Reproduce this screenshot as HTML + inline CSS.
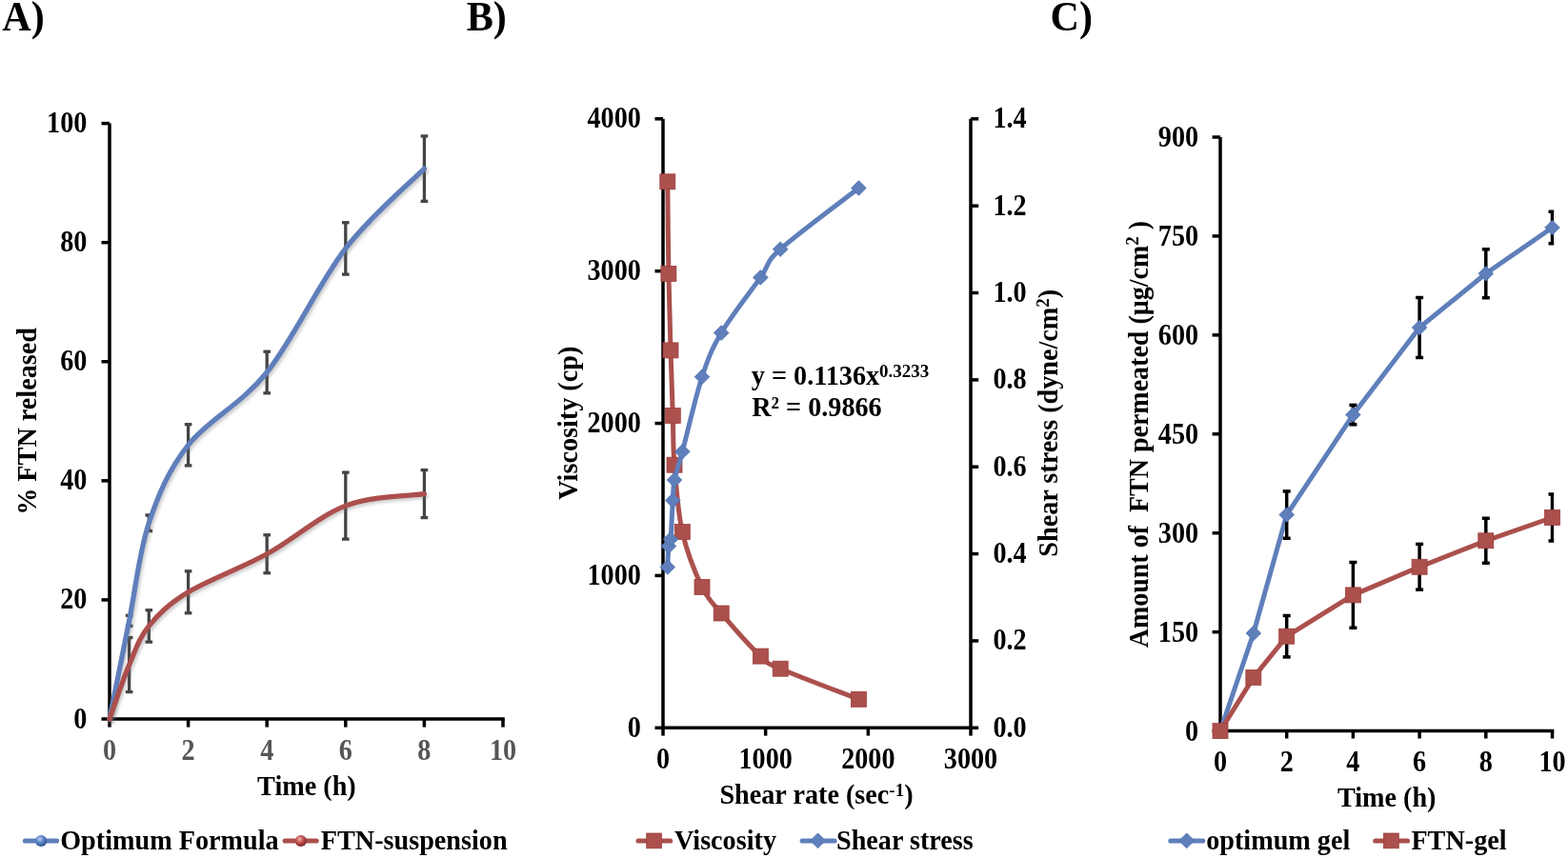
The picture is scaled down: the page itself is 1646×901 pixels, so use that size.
<!DOCTYPE html>
<html><head><meta charset="utf-8"><title>Figure</title>
<style>
html,body{margin:0;padding:0;background:#fff;}
svg{display:block;}
text{font-family:"Liberation Serif","Times New Roman",serif;font-weight:bold;}
</style></head>
<body>
<svg width="1646" height="901" viewBox="0 0 1646 901">
<defs>
<clipPath id="cclip"><rect x="1200" y="100" width="431.2" height="700"/></clipPath>
<filter id="sh" x="-10%" y="-10%" width="120%" height="120%">
<feDropShadow dx="2" dy="2.5" stdDeviation="1.6" flood-color="#6a6a6a" flood-opacity="0.32"/>
</filter>
<radialGradient id="gb" cx="0.4" cy="0.35" r="0.65"><stop offset="0" stop-color="#b9cdf0"/><stop offset="0.5" stop-color="#5d84c9"/><stop offset="1" stop-color="#2f4f8a"/></radialGradient>
<radialGradient id="gr" cx="0.4" cy="0.35" r="0.65"><stop offset="0" stop-color="#f0b0ae"/><stop offset="0.5" stop-color="#c0504d"/><stop offset="1" stop-color="#7a2624"/></radialGradient>
</defs>
<rect width="1646" height="901" fill="#fff"/>
<text transform="translate(2.30,31.90) scale(1,1.045)" font-size="42.2" text-anchor="start" fill="#000">A)</text>
<path d="M115.0,129.6 L115.0,755.0 L529.75,755.0" fill="none" stroke="#000" stroke-width="3.5"/>
<line x1="106.50" y1="755.00" x2="115.00" y2="755.00" stroke="#000" stroke-width="3.5" stroke-linecap="butt"/>
<text transform="translate(91.40,764.50) scale(1,1.09)" font-size="28.2" text-anchor="end" fill="#000">0</text>
<line x1="106.50" y1="629.92" x2="115.00" y2="629.92" stroke="#000" stroke-width="3.5" stroke-linecap="butt"/>
<text transform="translate(91.40,639.42) scale(1,1.09)" font-size="28.2" text-anchor="end" fill="#000">20</text>
<line x1="106.50" y1="504.84" x2="115.00" y2="504.84" stroke="#000" stroke-width="3.5" stroke-linecap="butt"/>
<text transform="translate(91.40,514.34) scale(1,1.09)" font-size="28.2" text-anchor="end" fill="#000">40</text>
<line x1="106.50" y1="379.76" x2="115.00" y2="379.76" stroke="#000" stroke-width="3.5" stroke-linecap="butt"/>
<text transform="translate(91.40,389.26) scale(1,1.09)" font-size="28.2" text-anchor="end" fill="#000">60</text>
<line x1="106.50" y1="254.68" x2="115.00" y2="254.68" stroke="#000" stroke-width="3.5" stroke-linecap="butt"/>
<text transform="translate(91.40,264.18) scale(1,1.09)" font-size="28.2" text-anchor="end" fill="#000">80</text>
<line x1="106.50" y1="129.60" x2="115.00" y2="129.60" stroke="#000" stroke-width="3.5" stroke-linecap="butt"/>
<text transform="translate(91.40,139.10) scale(1,1.09)" font-size="28.2" text-anchor="end" fill="#000">100</text>
<line x1="115.00" y1="755.00" x2="115.00" y2="763.60" stroke="#000" stroke-width="3.5" stroke-linecap="butt"/>
<text transform="translate(115.00,797.60) scale(1,1.09)" font-size="28.2" text-anchor="middle" fill="#565656">0</text>
<line x1="197.60" y1="755.00" x2="197.60" y2="763.60" stroke="#000" stroke-width="3.5" stroke-linecap="butt"/>
<text transform="translate(197.60,797.60) scale(1,1.09)" font-size="28.2" text-anchor="middle" fill="#565656">2</text>
<line x1="280.20" y1="755.00" x2="280.20" y2="763.60" stroke="#000" stroke-width="3.5" stroke-linecap="butt"/>
<text transform="translate(280.20,797.60) scale(1,1.09)" font-size="28.2" text-anchor="middle" fill="#565656">4</text>
<line x1="362.80" y1="755.00" x2="362.80" y2="763.60" stroke="#000" stroke-width="3.5" stroke-linecap="butt"/>
<text transform="translate(362.80,797.60) scale(1,1.09)" font-size="28.2" text-anchor="middle" fill="#565656">6</text>
<line x1="445.40" y1="755.00" x2="445.40" y2="763.60" stroke="#000" stroke-width="3.5" stroke-linecap="butt"/>
<text transform="translate(445.40,797.60) scale(1,1.09)" font-size="28.2" text-anchor="middle" fill="#565656">8</text>
<line x1="528.00" y1="755.00" x2="528.00" y2="763.60" stroke="#000" stroke-width="3.5" stroke-linecap="butt"/>
<text transform="translate(528.00,797.60) scale(1,1.09)" font-size="28.2" text-anchor="middle" fill="#565656">10</text>
<text transform="translate(321.90,834.90) scale(1,1.045)" font-size="28.2" text-anchor="middle" fill="#000">Time (h)</text>
<text transform="translate(38.30,442.50) rotate(-90) scale(1,1.045)" font-size="28.2" text-anchor="middle" fill="#000">% FTN released</text>
<line x1="135.65" y1="646.31" x2="135.65" y2="657.31" stroke="#444444" stroke-width="3.3" stroke-linecap="butt"/>
<line x1="131.85" y1="646.31" x2="139.45" y2="646.31" stroke="#444444" stroke-width="3.3" stroke-linecap="butt"/>
<line x1="131.85" y1="657.31" x2="139.45" y2="657.31" stroke="#444444" stroke-width="3.3" stroke-linecap="butt"/>
<line x1="156.30" y1="540.94" x2="156.30" y2="557.54" stroke="#444444" stroke-width="3.3" stroke-linecap="butt"/>
<line x1="152.50" y1="540.94" x2="160.10" y2="540.94" stroke="#444444" stroke-width="3.3" stroke-linecap="butt"/>
<line x1="152.50" y1="557.54" x2="160.10" y2="557.54" stroke="#444444" stroke-width="3.3" stroke-linecap="butt"/>
<line x1="197.60" y1="445.72" x2="197.60" y2="488.92" stroke="#444444" stroke-width="3.3" stroke-linecap="butt"/>
<line x1="193.80" y1="445.72" x2="201.40" y2="445.72" stroke="#444444" stroke-width="3.3" stroke-linecap="butt"/>
<line x1="193.80" y1="488.92" x2="201.40" y2="488.92" stroke="#444444" stroke-width="3.3" stroke-linecap="butt"/>
<line x1="280.20" y1="369.22" x2="280.20" y2="412.82" stroke="#444444" stroke-width="3.3" stroke-linecap="butt"/>
<line x1="276.40" y1="369.22" x2="284.00" y2="369.22" stroke="#444444" stroke-width="3.3" stroke-linecap="butt"/>
<line x1="276.40" y1="412.82" x2="284.00" y2="412.82" stroke="#444444" stroke-width="3.3" stroke-linecap="butt"/>
<line x1="362.80" y1="233.73" x2="362.80" y2="288.13" stroke="#444444" stroke-width="3.3" stroke-linecap="butt"/>
<line x1="359.00" y1="233.73" x2="366.60" y2="233.73" stroke="#444444" stroke-width="3.3" stroke-linecap="butt"/>
<line x1="359.00" y1="288.13" x2="366.60" y2="288.13" stroke="#444444" stroke-width="3.3" stroke-linecap="butt"/>
<line x1="445.40" y1="142.93" x2="445.40" y2="211.33" stroke="#444444" stroke-width="3.3" stroke-linecap="butt"/>
<line x1="441.60" y1="142.93" x2="449.20" y2="142.93" stroke="#444444" stroke-width="3.3" stroke-linecap="butt"/>
<line x1="441.60" y1="211.33" x2="449.20" y2="211.33" stroke="#444444" stroke-width="3.3" stroke-linecap="butt"/>
<line x1="135.65" y1="669.59" x2="135.65" y2="726.59" stroke="#444444" stroke-width="3.3" stroke-linecap="butt"/>
<line x1="131.85" y1="669.59" x2="139.45" y2="669.59" stroke="#444444" stroke-width="3.3" stroke-linecap="butt"/>
<line x1="131.85" y1="726.59" x2="139.45" y2="726.59" stroke="#444444" stroke-width="3.3" stroke-linecap="butt"/>
<line x1="156.30" y1="640.74" x2="156.30" y2="674.14" stroke="#444444" stroke-width="3.3" stroke-linecap="butt"/>
<line x1="152.50" y1="640.74" x2="160.10" y2="640.74" stroke="#444444" stroke-width="3.3" stroke-linecap="butt"/>
<line x1="152.50" y1="674.14" x2="160.10" y2="674.14" stroke="#444444" stroke-width="3.3" stroke-linecap="butt"/>
<line x1="197.60" y1="599.79" x2="197.60" y2="643.79" stroke="#444444" stroke-width="3.3" stroke-linecap="butt"/>
<line x1="193.80" y1="599.79" x2="201.40" y2="599.79" stroke="#444444" stroke-width="3.3" stroke-linecap="butt"/>
<line x1="193.80" y1="643.79" x2="201.40" y2="643.79" stroke="#444444" stroke-width="3.3" stroke-linecap="butt"/>
<line x1="280.20" y1="561.76" x2="280.20" y2="601.76" stroke="#444444" stroke-width="3.3" stroke-linecap="butt"/>
<line x1="276.40" y1="561.76" x2="284.00" y2="561.76" stroke="#444444" stroke-width="3.3" stroke-linecap="butt"/>
<line x1="276.40" y1="601.76" x2="284.00" y2="601.76" stroke="#444444" stroke-width="3.3" stroke-linecap="butt"/>
<line x1="362.80" y1="496.11" x2="362.80" y2="566.11" stroke="#444444" stroke-width="3.3" stroke-linecap="butt"/>
<line x1="359.00" y1="496.11" x2="366.60" y2="496.11" stroke="#444444" stroke-width="3.3" stroke-linecap="butt"/>
<line x1="359.00" y1="566.11" x2="366.60" y2="566.11" stroke="#444444" stroke-width="3.3" stroke-linecap="butt"/>
<line x1="445.40" y1="493.60" x2="445.40" y2="543.60" stroke="#444444" stroke-width="3.3" stroke-linecap="butt"/>
<line x1="441.60" y1="493.60" x2="449.20" y2="493.60" stroke="#444444" stroke-width="3.3" stroke-linecap="butt"/>
<line x1="441.60" y1="543.60" x2="449.20" y2="543.60" stroke="#444444" stroke-width="3.3" stroke-linecap="butt"/>
<path d="M115.00,755.00 C118.44,737.80 128.77,686.10 135.65,651.81 C142.53,617.52 145.98,579.99 156.30,549.24 C166.62,518.49 176.95,493.69 197.60,467.32 C218.25,440.94 252.67,425.41 280.20,391.02 C307.73,356.62 335.27,296.58 362.80,260.93 C390.33,225.29 431.63,191.10 445.40,177.13" fill="none" stroke="#5f7fbb" stroke-width="5.3" stroke-linecap="round" filter="url(#sh)"/>
<path d="M115.00,755.00 C118.44,745.51 128.77,714.35 135.65,698.09 C142.53,681.83 145.98,670.15 156.30,657.44 C166.62,644.72 176.95,634.40 197.60,621.79 C218.25,609.18 252.67,596.88 280.20,581.76 C307.73,566.65 335.27,541.63 362.80,531.11 C390.33,520.58 431.63,520.68 445.40,518.60" fill="none" stroke="#ab504d" stroke-width="5.3" stroke-linecap="round" filter="url(#sh)"/>
<line x1="26.40" y1="883.00" x2="59.50" y2="883.00" stroke="#5f7fbb" stroke-width="5.2" stroke-linecap="round"/>
<circle cx="43.1" cy="883.0" r="6.1" fill="url(#gb)"/>
<text transform="translate(63.20,892.00) scale(1,1.045)" font-size="28.2" text-anchor="start" fill="#000">Optimum Formula</text>
<line x1="299.20" y1="883.00" x2="332.20" y2="883.00" stroke="#ab504d" stroke-width="5.2" stroke-linecap="round"/>
<circle cx="315.8" cy="883.0" r="6.1" fill="url(#gr)"/>
<text transform="translate(336.80,892.00) scale(1,1.045)" font-size="28.2" text-anchor="start" fill="#000">FTN-suspension</text>
<text transform="translate(489.70,31.90) scale(1,1.045)" font-size="42.2" text-anchor="start" fill="#000">B)</text>
<path d="M696.0,124.8 L696.0,764.3 L1019.0,764.3 L1019.0,124.8" fill="none" stroke="#000" stroke-width="3.5"/>
<line x1="687.50" y1="764.30" x2="696.00" y2="764.30" stroke="#000" stroke-width="3.5" stroke-linecap="butt"/>
<text transform="translate(672.90,773.70) scale(1,1.09)" font-size="28.2" text-anchor="end" fill="#000">0</text>
<line x1="687.50" y1="604.42" x2="696.00" y2="604.42" stroke="#000" stroke-width="3.5" stroke-linecap="butt"/>
<text transform="translate(672.90,613.82) scale(1,1.09)" font-size="28.2" text-anchor="end" fill="#000">1000</text>
<line x1="687.50" y1="444.55" x2="696.00" y2="444.55" stroke="#000" stroke-width="3.5" stroke-linecap="butt"/>
<text transform="translate(672.90,453.95) scale(1,1.09)" font-size="28.2" text-anchor="end" fill="#000">2000</text>
<line x1="687.50" y1="284.67" x2="696.00" y2="284.67" stroke="#000" stroke-width="3.5" stroke-linecap="butt"/>
<text transform="translate(672.90,294.07) scale(1,1.09)" font-size="28.2" text-anchor="end" fill="#000">3000</text>
<line x1="687.50" y1="124.80" x2="696.00" y2="124.80" stroke="#000" stroke-width="3.5" stroke-linecap="butt"/>
<text transform="translate(672.90,134.20) scale(1,1.09)" font-size="28.2" text-anchor="end" fill="#000">4000</text>
<line x1="1019.00" y1="764.30" x2="1027.20" y2="764.30" stroke="#000" stroke-width="3.5" stroke-linecap="butt"/>
<text transform="translate(1042.40,773.70) scale(1,1.09)" font-size="28.2" text-anchor="start" fill="#000">0.0</text>
<line x1="1019.00" y1="672.94" x2="1027.20" y2="672.94" stroke="#000" stroke-width="3.5" stroke-linecap="butt"/>
<text transform="translate(1042.40,682.34) scale(1,1.09)" font-size="28.2" text-anchor="start" fill="#000">0.2</text>
<line x1="1019.00" y1="581.59" x2="1027.20" y2="581.59" stroke="#000" stroke-width="3.5" stroke-linecap="butt"/>
<text transform="translate(1042.40,590.99) scale(1,1.09)" font-size="28.2" text-anchor="start" fill="#000">0.4</text>
<line x1="1019.00" y1="490.23" x2="1027.20" y2="490.23" stroke="#000" stroke-width="3.5" stroke-linecap="butt"/>
<text transform="translate(1042.40,499.63) scale(1,1.09)" font-size="28.2" text-anchor="start" fill="#000">0.6</text>
<line x1="1019.00" y1="398.87" x2="1027.20" y2="398.87" stroke="#000" stroke-width="3.5" stroke-linecap="butt"/>
<text transform="translate(1042.40,408.27) scale(1,1.09)" font-size="28.2" text-anchor="start" fill="#000">0.8</text>
<line x1="1019.00" y1="307.51" x2="1027.20" y2="307.51" stroke="#000" stroke-width="3.5" stroke-linecap="butt"/>
<text transform="translate(1042.40,316.91) scale(1,1.09)" font-size="28.2" text-anchor="start" fill="#000">1.0</text>
<line x1="1019.00" y1="216.16" x2="1027.20" y2="216.16" stroke="#000" stroke-width="3.5" stroke-linecap="butt"/>
<text transform="translate(1042.40,225.56) scale(1,1.09)" font-size="28.2" text-anchor="start" fill="#000">1.2</text>
<line x1="1019.00" y1="124.80" x2="1027.20" y2="124.80" stroke="#000" stroke-width="3.5" stroke-linecap="butt"/>
<text transform="translate(1042.40,134.20) scale(1,1.09)" font-size="28.2" text-anchor="start" fill="#000">1.4</text>
<line x1="696.00" y1="764.30" x2="696.00" y2="772.60" stroke="#000" stroke-width="3.5" stroke-linecap="butt"/>
<text transform="translate(696.00,807.30) scale(1,1.09)" font-size="28.2" text-anchor="middle" fill="#000">0</text>
<line x1="803.67" y1="764.30" x2="803.67" y2="772.60" stroke="#000" stroke-width="3.5" stroke-linecap="butt"/>
<text transform="translate(803.67,807.30) scale(1,1.09)" font-size="28.2" text-anchor="middle" fill="#000">1000</text>
<line x1="911.33" y1="764.30" x2="911.33" y2="772.60" stroke="#000" stroke-width="3.5" stroke-linecap="butt"/>
<text transform="translate(911.33,807.30) scale(1,1.09)" font-size="28.2" text-anchor="middle" fill="#000">2000</text>
<line x1="1019.00" y1="764.30" x2="1019.00" y2="772.60" stroke="#000" stroke-width="3.5" stroke-linecap="butt"/>
<text transform="translate(1019.00,807.30) scale(1,1.09)" font-size="28.2" text-anchor="middle" fill="#000">3000</text>
<text transform="translate(755.40,844.30) scale(1,1.045)" font-size="28.2" text-anchor="start" fill="#000">Shear rate (sec<tspan font-size="19" dy="-8.4">-1</tspan><tspan dy="8.4">)</tspan></text>
<text transform="translate(605.60,524.70) rotate(-90) scale(1,1.045)" font-size="28.2" text-anchor="start" fill="#000">Viscosity (cp)</text>
<text transform="translate(1110.00,584.70) rotate(-90) scale(1,1.045)" font-size="28.2" text-anchor="start" fill="#000">Shear stress (dyne/cm<tspan font-size="19" dy="-9">2</tspan><tspan dy="9">)</tspan></text>
<text transform="translate(788.80,404.30) scale(1,1.045)" font-size="28.2" text-anchor="start" fill="#000">y = 0.1136x<tspan font-size="19" dy="-8.2">0.3233</tspan></text>
<text transform="translate(789.20,437.40) scale(1,1.045)" font-size="28.2" text-anchor="start" fill="#000">R² = 0.9866</text>
<path d="M700.80,190.80 C700.98,206.90 701.37,257.88 701.90,287.40 C702.43,316.92 703.27,343.07 704.00,367.90 C704.73,392.73 705.63,416.35 706.30,436.40 C706.97,456.45 706.33,467.83 708.00,488.20 C709.67,508.57 711.47,537.22 716.30,558.60 C721.13,579.98 730.18,602.27 737.00,616.50 C743.82,630.73 746.97,631.90 757.20,644.00 C767.43,656.10 788.07,679.40 798.40,689.10 C808.73,698.80 802.03,694.67 819.20,702.20 C836.38,709.73 887.74,728.95 901.45,734.30" fill="none" stroke="#ab504d" stroke-width="5" stroke-linejoin="round"/>
<rect x="692.80" y="182.80" width="16.0" height="16.0" fill="#ab504d" stroke="#9e403d" stroke-width="0.8"/>
<rect x="693.90" y="279.40" width="16.0" height="16.0" fill="#ab504d" stroke="#9e403d" stroke-width="0.8"/>
<rect x="696.00" y="359.90" width="16.0" height="16.0" fill="#ab504d" stroke="#9e403d" stroke-width="0.8"/>
<rect x="698.30" y="428.40" width="16.0" height="16.0" fill="#ab504d" stroke="#9e403d" stroke-width="0.8"/>
<rect x="700.00" y="480.20" width="16.0" height="16.0" fill="#ab504d" stroke="#9e403d" stroke-width="0.8"/>
<rect x="708.30" y="550.60" width="16.0" height="16.0" fill="#ab504d" stroke="#9e403d" stroke-width="0.8"/>
<rect x="729.00" y="608.50" width="16.0" height="16.0" fill="#ab504d" stroke="#9e403d" stroke-width="0.8"/>
<rect x="749.20" y="636.00" width="16.0" height="16.0" fill="#ab504d" stroke="#9e403d" stroke-width="0.8"/>
<rect x="790.40" y="681.10" width="16.0" height="16.0" fill="#ab504d" stroke="#9e403d" stroke-width="0.8"/>
<rect x="811.20" y="694.20" width="16.0" height="16.0" fill="#ab504d" stroke="#9e403d" stroke-width="0.8"/>
<rect x="893.45" y="726.30" width="16.0" height="16.0" fill="#ab504d" stroke="#9e403d" stroke-width="0.8"/>
<path d="M700.80,595.50 C700.98,591.85 701.37,578.47 701.90,573.60 C702.43,568.73 703.27,574.32 704.00,566.30 C704.73,558.28 705.63,535.88 706.30,525.50 C706.97,515.12 706.33,512.53 708.00,504.00 C709.67,495.47 711.47,492.35 716.30,474.30 C721.13,456.25 730.18,416.48 737.00,395.70 C743.82,374.92 746.97,366.98 757.20,349.60 C767.43,332.22 788.07,306.05 798.40,291.40 C808.73,276.75 802.03,277.35 819.20,261.70 C836.38,246.05 887.74,208.20 901.45,197.50" fill="none" stroke="#5f7fbb" stroke-width="5" stroke-linejoin="round"/>
<path d="M700.80,587.70 L708.60,595.50 L700.80,603.30 L693.00,595.50 Z" fill="#5f7fbb" stroke="#4d6fb0" stroke-width="0.8"/>
<path d="M701.90,565.80 L709.70,573.60 L701.90,581.40 L694.10,573.60 Z" fill="#5f7fbb" stroke="#4d6fb0" stroke-width="0.8"/>
<path d="M704.00,558.50 L711.80,566.30 L704.00,574.10 L696.20,566.30 Z" fill="#5f7fbb" stroke="#4d6fb0" stroke-width="0.8"/>
<path d="M706.30,517.70 L714.10,525.50 L706.30,533.30 L698.50,525.50 Z" fill="#5f7fbb" stroke="#4d6fb0" stroke-width="0.8"/>
<path d="M708.00,496.20 L715.80,504.00 L708.00,511.80 L700.20,504.00 Z" fill="#5f7fbb" stroke="#4d6fb0" stroke-width="0.8"/>
<path d="M716.30,466.50 L724.10,474.30 L716.30,482.10 L708.50,474.30 Z" fill="#5f7fbb" stroke="#4d6fb0" stroke-width="0.8"/>
<path d="M737.00,387.90 L744.80,395.70 L737.00,403.50 L729.20,395.70 Z" fill="#5f7fbb" stroke="#4d6fb0" stroke-width="0.8"/>
<path d="M757.20,341.80 L765.00,349.60 L757.20,357.40 L749.40,349.60 Z" fill="#5f7fbb" stroke="#4d6fb0" stroke-width="0.8"/>
<path d="M798.40,283.60 L806.20,291.40 L798.40,299.20 L790.60,291.40 Z" fill="#5f7fbb" stroke="#4d6fb0" stroke-width="0.8"/>
<path d="M819.20,253.90 L827.00,261.70 L819.20,269.50 L811.40,261.70 Z" fill="#5f7fbb" stroke="#4d6fb0" stroke-width="0.8"/>
<path d="M901.45,189.70 L909.25,197.50 L901.45,205.30 L893.65,197.50 Z" fill="#5f7fbb" stroke="#4d6fb0" stroke-width="0.8"/>
<line x1="670.10" y1="883.00" x2="703.60" y2="883.00" stroke="#ab504d" stroke-width="5.2" stroke-linecap="round"/>
<rect x="678.70" y="875.00" width="15.8" height="15.8" fill="#ab504d" stroke="#9e403d" stroke-width="0.8"/>
<text transform="translate(708.00,892.10) scale(1,1.045)" font-size="28.2" text-anchor="start" fill="#000">Viscosity</text>
<line x1="842.20" y1="883.00" x2="876.00" y2="883.00" stroke="#5f7fbb" stroke-width="5.2" stroke-linecap="round"/>
<path d="M858.60,874.90 L866.50,882.80 L858.60,890.70 L850.70,882.80 Z" fill="#5f7fbb" stroke="#4d6fb0" stroke-width="0.8"/>
<text transform="translate(878.00,892.10) scale(1,1.045)" font-size="28.2" text-anchor="start" fill="#000">Shear stress</text>
<text transform="translate(1102.60,31.90) scale(1,1.045)" font-size="42.2" text-anchor="start" fill="#000">C)</text>
<path d="M1281.0,144.0 L1281.0,767.6 L1631.25,767.6" fill="none" stroke="#000" stroke-width="3.5"/>
<line x1="1272.60" y1="767.60" x2="1281.00" y2="767.60" stroke="#000" stroke-width="3.5" stroke-linecap="butt"/>
<text transform="translate(1258.10,777.50) scale(1,1.09)" font-size="28.2" text-anchor="end" fill="#000">0</text>
<line x1="1272.60" y1="663.67" x2="1281.00" y2="663.67" stroke="#000" stroke-width="3.5" stroke-linecap="butt"/>
<text transform="translate(1258.10,673.57) scale(1,1.09)" font-size="28.2" text-anchor="end" fill="#000">150</text>
<line x1="1272.60" y1="559.73" x2="1281.00" y2="559.73" stroke="#000" stroke-width="3.5" stroke-linecap="butt"/>
<text transform="translate(1258.10,569.63) scale(1,1.09)" font-size="28.2" text-anchor="end" fill="#000">300</text>
<line x1="1272.60" y1="455.80" x2="1281.00" y2="455.80" stroke="#000" stroke-width="3.5" stroke-linecap="butt"/>
<text transform="translate(1258.10,465.70) scale(1,1.09)" font-size="28.2" text-anchor="end" fill="#000">450</text>
<line x1="1272.60" y1="351.87" x2="1281.00" y2="351.87" stroke="#000" stroke-width="3.5" stroke-linecap="butt"/>
<text transform="translate(1258.10,361.77) scale(1,1.09)" font-size="28.2" text-anchor="end" fill="#000">600</text>
<line x1="1272.60" y1="247.93" x2="1281.00" y2="247.93" stroke="#000" stroke-width="3.5" stroke-linecap="butt"/>
<text transform="translate(1258.10,257.83) scale(1,1.09)" font-size="28.2" text-anchor="end" fill="#000">750</text>
<line x1="1272.60" y1="144.00" x2="1281.00" y2="144.00" stroke="#000" stroke-width="3.5" stroke-linecap="butt"/>
<text transform="translate(1258.10,153.90) scale(1,1.09)" font-size="28.2" text-anchor="end" fill="#000">900</text>
<line x1="1281.00" y1="767.60" x2="1281.00" y2="775.50" stroke="#000" stroke-width="3.5" stroke-linecap="butt"/>
<text transform="translate(1281.00,810.30) scale(1,1.09)" font-size="28.2" text-anchor="middle" fill="#000">0</text>
<line x1="1350.70" y1="767.60" x2="1350.70" y2="775.50" stroke="#000" stroke-width="3.5" stroke-linecap="butt"/>
<text transform="translate(1350.70,810.30) scale(1,1.09)" font-size="28.2" text-anchor="middle" fill="#000">2</text>
<line x1="1420.40" y1="767.60" x2="1420.40" y2="775.50" stroke="#000" stroke-width="3.5" stroke-linecap="butt"/>
<text transform="translate(1420.40,810.30) scale(1,1.09)" font-size="28.2" text-anchor="middle" fill="#000">4</text>
<line x1="1490.10" y1="767.60" x2="1490.10" y2="775.50" stroke="#000" stroke-width="3.5" stroke-linecap="butt"/>
<text transform="translate(1490.10,810.30) scale(1,1.09)" font-size="28.2" text-anchor="middle" fill="#000">6</text>
<line x1="1559.80" y1="767.60" x2="1559.80" y2="775.50" stroke="#000" stroke-width="3.5" stroke-linecap="butt"/>
<text transform="translate(1559.80,810.30) scale(1,1.09)" font-size="28.2" text-anchor="middle" fill="#000">8</text>
<line x1="1629.50" y1="767.60" x2="1629.50" y2="775.50" stroke="#000" stroke-width="3.5" stroke-linecap="butt"/>
<text transform="translate(1629.50,810.30) scale(1,1.09)" font-size="28.2" text-anchor="middle" fill="#000">10</text>
<text transform="translate(1455.70,847.40) scale(1,1.045)" font-size="28.2" text-anchor="middle" fill="#000">Time (h)</text>
<text transform="translate(1204.70,680.30) rotate(-90) scale(1,1.045)" font-size="28.0" text-anchor="start" fill="#000">Amount of&#160; FTN permeated (µg/cm<tspan font-size="19" dy="-9">2</tspan><tspan dy="9"> )</tspan></text>
<path d="M1281.00,767.60 L1315.85,665.00 L1350.70,540.60 L1420.40,435.60 L1490.10,344.00 L1559.80,287.30 L1629.50,239.00" fill="none" stroke="#5f7fbb" stroke-width="5" stroke-linejoin="round"/>
<g clip-path="url(#cclip)">
<line x1="1350.70" y1="515.90" x2="1350.70" y2="565.30" stroke="#000" stroke-width="3.5" stroke-linecap="butt"/>
<line x1="1346.70" y1="515.90" x2="1354.70" y2="515.90" stroke="#000" stroke-width="3.5" stroke-linecap="butt"/>
<line x1="1346.70" y1="565.30" x2="1354.70" y2="565.30" stroke="#000" stroke-width="3.5" stroke-linecap="butt"/>
<line x1="1420.40" y1="425.40" x2="1420.40" y2="445.80" stroke="#000" stroke-width="3.5" stroke-linecap="butt"/>
<line x1="1416.40" y1="425.40" x2="1424.40" y2="425.40" stroke="#000" stroke-width="3.5" stroke-linecap="butt"/>
<line x1="1416.40" y1="445.80" x2="1424.40" y2="445.80" stroke="#000" stroke-width="3.5" stroke-linecap="butt"/>
<line x1="1490.10" y1="312.50" x2="1490.10" y2="375.50" stroke="#000" stroke-width="3.5" stroke-linecap="butt"/>
<line x1="1486.10" y1="312.50" x2="1494.10" y2="312.50" stroke="#000" stroke-width="3.5" stroke-linecap="butt"/>
<line x1="1486.10" y1="375.50" x2="1494.10" y2="375.50" stroke="#000" stroke-width="3.5" stroke-linecap="butt"/>
<line x1="1559.80" y1="261.80" x2="1559.80" y2="312.80" stroke="#000" stroke-width="3.5" stroke-linecap="butt"/>
<line x1="1555.80" y1="261.80" x2="1563.80" y2="261.80" stroke="#000" stroke-width="3.5" stroke-linecap="butt"/>
<line x1="1555.80" y1="312.80" x2="1563.80" y2="312.80" stroke="#000" stroke-width="3.5" stroke-linecap="butt"/>
<line x1="1629.50" y1="222.30" x2="1629.50" y2="255.70" stroke="#000" stroke-width="3.5" stroke-linecap="butt"/>
<line x1="1625.50" y1="222.30" x2="1633.50" y2="222.30" stroke="#000" stroke-width="3.5" stroke-linecap="butt"/>
<line x1="1625.50" y1="255.70" x2="1633.50" y2="255.70" stroke="#000" stroke-width="3.5" stroke-linecap="butt"/>
</g>
<path d="M1281.00,759.80 L1288.80,767.60 L1281.00,775.40 L1273.20,767.60 Z" fill="#5f7fbb" stroke="#4d6fb0" stroke-width="0.8"/>
<path d="M1315.85,657.20 L1323.65,665.00 L1315.85,672.80 L1308.05,665.00 Z" fill="#5f7fbb" stroke="#4d6fb0" stroke-width="0.8"/>
<path d="M1350.70,532.80 L1358.50,540.60 L1350.70,548.40 L1342.90,540.60 Z" fill="#5f7fbb" stroke="#4d6fb0" stroke-width="0.8"/>
<path d="M1420.40,427.80 L1428.20,435.60 L1420.40,443.40 L1412.60,435.60 Z" fill="#5f7fbb" stroke="#4d6fb0" stroke-width="0.8"/>
<path d="M1490.10,336.20 L1497.90,344.00 L1490.10,351.80 L1482.30,344.00 Z" fill="#5f7fbb" stroke="#4d6fb0" stroke-width="0.8"/>
<path d="M1559.80,279.50 L1567.60,287.30 L1559.80,295.10 L1552.00,287.30 Z" fill="#5f7fbb" stroke="#4d6fb0" stroke-width="0.8"/>
<path d="M1629.50,231.20 L1637.30,239.00 L1629.50,246.80 L1621.70,239.00 Z" fill="#5f7fbb" stroke="#4d6fb0" stroke-width="0.8"/>
<path d="M1281.00,767.60 L1315.85,711.40 L1350.70,668.20 L1420.40,624.90 L1490.10,595.30 L1559.80,567.80 L1629.50,543.50" fill="none" stroke="#ab504d" stroke-width="5" stroke-linejoin="round"/>
<g clip-path="url(#cclip)">
<line x1="1350.70" y1="646.50" x2="1350.70" y2="689.90" stroke="#000" stroke-width="3.5" stroke-linecap="butt"/>
<line x1="1346.70" y1="646.50" x2="1354.70" y2="646.50" stroke="#000" stroke-width="3.5" stroke-linecap="butt"/>
<line x1="1346.70" y1="689.90" x2="1354.70" y2="689.90" stroke="#000" stroke-width="3.5" stroke-linecap="butt"/>
<line x1="1420.40" y1="590.50" x2="1420.40" y2="659.30" stroke="#000" stroke-width="3.5" stroke-linecap="butt"/>
<line x1="1416.40" y1="590.50" x2="1424.40" y2="590.50" stroke="#000" stroke-width="3.5" stroke-linecap="butt"/>
<line x1="1416.40" y1="659.30" x2="1424.40" y2="659.30" stroke="#000" stroke-width="3.5" stroke-linecap="butt"/>
<line x1="1490.10" y1="571.40" x2="1490.10" y2="619.20" stroke="#000" stroke-width="3.5" stroke-linecap="butt"/>
<line x1="1486.10" y1="571.40" x2="1494.10" y2="571.40" stroke="#000" stroke-width="3.5" stroke-linecap="butt"/>
<line x1="1486.10" y1="619.20" x2="1494.10" y2="619.20" stroke="#000" stroke-width="3.5" stroke-linecap="butt"/>
<line x1="1559.80" y1="544.30" x2="1559.80" y2="591.30" stroke="#000" stroke-width="3.5" stroke-linecap="butt"/>
<line x1="1555.80" y1="544.30" x2="1563.80" y2="544.30" stroke="#000" stroke-width="3.5" stroke-linecap="butt"/>
<line x1="1555.80" y1="591.30" x2="1563.80" y2="591.30" stroke="#000" stroke-width="3.5" stroke-linecap="butt"/>
<line x1="1629.50" y1="519.00" x2="1629.50" y2="568.00" stroke="#000" stroke-width="3.5" stroke-linecap="butt"/>
<line x1="1625.50" y1="519.00" x2="1633.50" y2="519.00" stroke="#000" stroke-width="3.5" stroke-linecap="butt"/>
<line x1="1625.50" y1="568.00" x2="1633.50" y2="568.00" stroke="#000" stroke-width="3.5" stroke-linecap="butt"/>
</g>
<rect x="1273.00" y="759.60" width="16.0" height="16.0" fill="#ab504d" stroke="#9e403d" stroke-width="0.8"/>
<rect x="1307.85" y="703.40" width="16.0" height="16.0" fill="#ab504d" stroke="#9e403d" stroke-width="0.8"/>
<rect x="1342.70" y="660.20" width="16.0" height="16.0" fill="#ab504d" stroke="#9e403d" stroke-width="0.8"/>
<rect x="1412.40" y="616.90" width="16.0" height="16.0" fill="#ab504d" stroke="#9e403d" stroke-width="0.8"/>
<rect x="1482.10" y="587.30" width="16.0" height="16.0" fill="#ab504d" stroke="#9e403d" stroke-width="0.8"/>
<rect x="1551.80" y="559.80" width="16.0" height="16.0" fill="#ab504d" stroke="#9e403d" stroke-width="0.8"/>
<rect x="1621.50" y="535.50" width="16.0" height="16.0" fill="#ab504d" stroke="#9e403d" stroke-width="0.8"/>
<line x1="1228.90" y1="883.00" x2="1262.60" y2="883.00" stroke="#5f7fbb" stroke-width="5.2" stroke-linecap="round"/>
<path d="M1245.70,874.90 L1253.60,882.80 L1245.70,890.70 L1237.80,882.80 Z" fill="#5f7fbb" stroke="#4d6fb0" stroke-width="0.8"/>
<text transform="translate(1266.20,892.10) scale(1,1.045)" font-size="28.2" text-anchor="start" fill="#000">optimum gel</text>
<line x1="1443.80" y1="883.00" x2="1477.50" y2="883.00" stroke="#ab504d" stroke-width="5.2" stroke-linecap="round"/>
<rect x="1452.50" y="875.00" width="15.8" height="15.8" fill="#ab504d" stroke="#9e403d" stroke-width="0.8"/>
<text transform="translate(1481.40,892.10) scale(1,1.045)" font-size="28.2" text-anchor="start" fill="#000">FTN-gel</text>
</svg>
</body></html>
